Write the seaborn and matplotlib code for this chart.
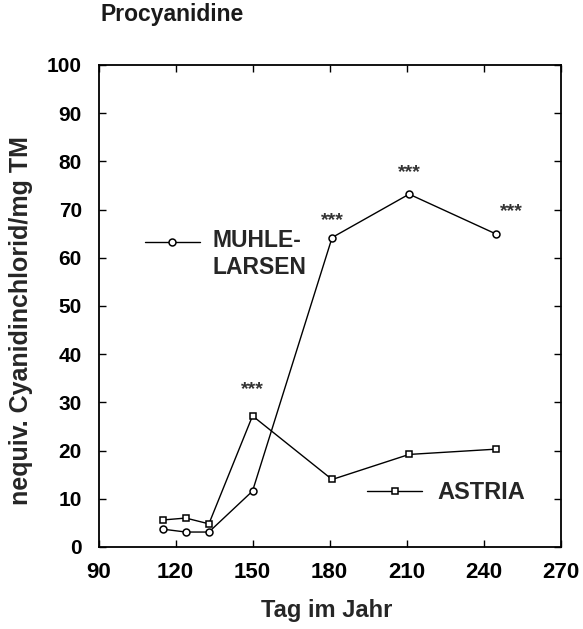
import matplotlib
matplotlib.use("Agg")
import matplotlib.pyplot as plt
import seaborn as sns
import pandas as pd

# Procyanidin content over the season, two apple cultivars
days = [115, 124, 133, 150, 181, 211, 245]
muhle_larsen = [3.7, 3.1, 3.1, 11.6, 64.2, 73.2, 64.9]
astria = [5.6, 6.0, 4.8, 27.2, 14.0, 19.2, 20.3]

# significance marks between cultivars
sig_days = [150, 181, 211, 251]
sig_levels = [34, 69, 79, 71]
sig_labels = ["***", "***", "***", "***"]

x_ticks = [90, 120, 150, 180, 210, 240, 270]
y_ticks = [0, 10, 20, 30, 40, 50, 60, 70, 80, 90, 100]

cultivars = ["MUHLE-LARSEN", "ASTRIA"]
markers = {"MUHLE-LARSEN": "o", "ASTRIA": "s"}

sns.set_style("ticks")
plt.rcParams["font.family"] = ["Liberation Sans", "DejaVu Sans"]
plt.rcParams["font.weight"] = "bold"

df = pd.DataFrame({
    "Tag": days * 2,
    "Wert": muhle_larsen + astria,
    "Sorte": [cultivars[0]] * len(days) + [cultivars[1]] * len(days),
})

fig = plt.figure(figsize=(5.83, 6.29), dpi=100)
ax = fig.add_axes([0.169, 0.1304, 0.7925, 0.7663])

sns.lineplot(
    data=df, x="Tag", y="Wert", hue="Sorte", style="Sorte",
    markers=markers, dashes=False, sort=False, legend=False,
    palette={c: "black" for c in cultivars},
    markersize=5, markerfacecolor="white", markeredgecolor="black",
    markeredgewidth=1.1, linewidth=1.0, ax=ax,
)

for d, v, s in zip(sig_days, sig_levels, sig_labels):
    ax.annotate(s, (d, v), xytext=(0, -8.0), textcoords="offset points",
                ha="center", va="baseline", fontsize=14,
                fontweight="bold", color="#333333")

ax.set_xlim(x_ticks[0], x_ticks[-1])
ax.set_ylim(y_ticks[0], y_ticks[-1])
ax.set_xticks(x_ticks)
ax.set_yticks(y_ticks)
ax.set_xlabel("")
ax.set_ylabel("")
ax.tick_params(direction="in", top=True, right=True, length=5, width=1,
               colors="black")
ax.tick_params(axis="x", labelsize=16, pad=11)
ax.tick_params(axis="y", labelsize=15, pad=12)
for lab in ax.get_xticklabels() + ax.get_yticklabels():
    lab.set_fontweight("bold")
for sp in ax.spines.values():
    sp.set_linewidth(1.3)
    sp.set_color("black")

# inline legend keys
key_specs = [
    ("o", 0.0996, 0.2186, 0.633),
    ("s", 0.582, 0.701, 0.116),
]
for mk, x0, x1, y in key_specs:
    ax.plot([x0, (x0 + x1) / 2, x1], [y, y, y], transform=ax.transAxes,
            color="black", lw=1.0, marker=mk, markevery=[1], markersize=5,
            markerfacecolor="white", markeredgecolor="black",
            markeredgewidth=1.1, clip_on=False)
ax.text(0.247, 0.623, "MUHLE-", transform=ax.transAxes, ha="left",
        va="baseline", fontsize=16.5, fontweight="bold")
ax.text(0.247, 0.566, "LARSEN", transform=ax.transAxes, ha="left",
        va="baseline", fontsize=16.5, fontweight="bold")
ax.text(0.734, 0.099, "ASTRIA", transform=ax.transAxes, ha="left",
        va="baseline", fontsize=17, fontweight="bold")

fig.text(100 / 583, 1 - 15 / 629, "Procyanidine", ha="left", va="center",
         fontsize=16.5, fontweight="bold", color="#1a1a1a")
fig.text(21 / 583, 1 - 321 / 629, "nequiv. Cyanidinchlorid/mg TM",
         rotation=90, ha="center", va="center", fontsize=18,
         fontweight="bold")
fig.text(326.5 / 583, 1 - 611 / 629, "Tag im Jahr", ha="center",
         va="center", fontsize=17, fontweight="bold")

fig.savefig("out.png", dpi=100)
